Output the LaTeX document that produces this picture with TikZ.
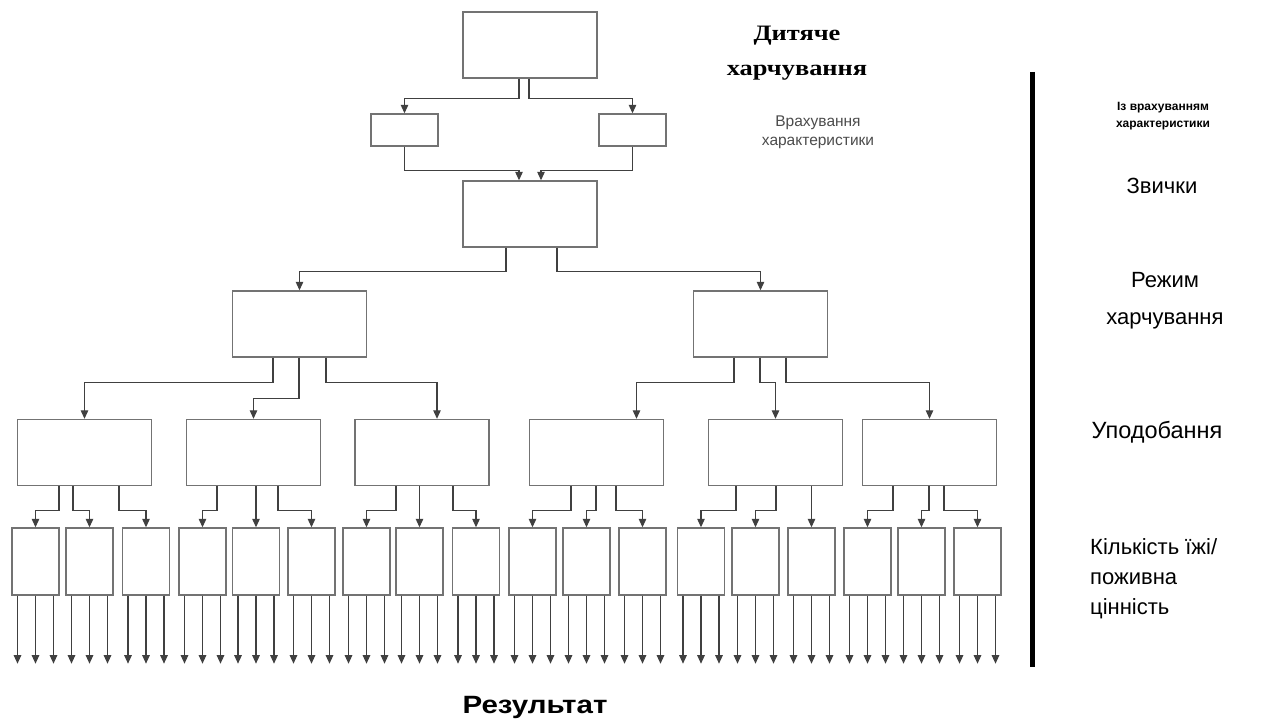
\documentclass[tikz,border=0pt]{standalone}
\usepackage{fontspec}
\setmainfont{Liberation Sans}
\newfontfamily\headserif{Liberation Serif}
\usetikzlibrary{arrows.meta}

\begin{document}
\begin{tikzpicture}[x=1pt,y=-1pt,
  framed/.style={draw=black!55, line width=1.4pt, inner sep=0pt, fill=white},
  bigbox/.style={framed, minimum width=134pt, minimum height=66pt},
  smallbox/.style={framed, minimum width=67pt, minimum height=32pt},
  leafbox/.style={framed, minimum width=47pt, minimum height=67pt},
  conn/.style={draw=black!75, line width=1.1pt, -{Triangle[length=8.5pt,width=7.5pt]}},
  lab/.style={font=\fontsize{22}{37}\selectfont, align=center, inner sep=0pt},
]
\fill[white] (0,0) rectangle (1265,719);
\useasboundingbox (0,0) rectangle (1265,719);

% root, the two side boxes and the second level
\node[bigbox] (a) at (530,45) {};
\node[smallbox] (s1) at (404.5,130) {};
\node[smallbox] (s2) at (632.5,130) {};
\node[bigbox] (b) at (530,214) {};

% third level
\node[bigbox] (c1) at (299.5,324) {};
\node[bigbox] (c2) at (760.5,324) {};

% fourth level
\foreach \cx [count=\i] in {84.5,253.5,422,596.5,775.5,929.5}
  \node[bigbox] (d\i) at (\cx,452.5) {};

% leaves
\foreach \cx [count=\i] in {35.5,89.5,146,202.5,256,311.5,366.5,419.5,476,
                             532.5,586.5,642.5,701,755.5,811.5,867.5,921.5,977.5}
  \node[leafbox] (e\i) at (\cx,561.5) {};

% root to side boxes, side boxes to second level
\draw[conn] ([xshift=-11pt]a.south) -- ++(0,20) -| (s1.north);
\draw[conn] ([xshift=-1pt]a.south) -- ++(0,20) -| (s2.north);
\draw[conn] (s1.south) -- ++(0,24) -| ([xshift=-11pt]b.north);
\draw[conn] (s2.south) -- ++(0,24) -| ([xshift=11pt]b.north);

% second level to third level
\draw[conn] ([xshift=-24pt]b.south) -- ++(0,24) -| (c1.north);
\draw[conn] ([xshift=27pt]b.south) -- ++(0,24) -| (c2.north);

% third level to fourth level
\draw[conn] ([xshift=-26.5pt]c1.south) -- ++(0,25) -| (d1.north);
\draw[conn] ([xshift=-0.5pt]c1.south) -- ++(0,41) -| (d2.north);
\draw[conn] ([xshift=26.5pt]c1.south) -- ++(0,25) -| ([xshift=15pt]d3.north);
\draw[conn] ([xshift=-26.5pt]c2.south) -- ++(0,25) -| ([xshift=40pt]d4.north);
\draw[conn] ([xshift=-0.5pt]c2.south) -- ++(0,25) -| (d5.north);
\draw[conn] ([xshift=25.5pt]c2.south) -- ++(0,25) -| (d6.north);

% fourth level to leaves
\foreach \src/\dx/\dst in {d1/-25.5/e1, d1/-11.5/e2, d1/34.5/e3,
                           d2/-36.5/e4, d2/2.5/e5, d2/24.5/e6,
                           d3/-26/e7, d3/-2.5/e8, d3/31/e9,
                           d4/-25.5/e10, d4/-0.5/e11, d4/19.5/e12,
                           d5/-39.5/e13, d5/0.5/e14, d5/36/e15,
                           d6/-36.5/e16, d6/-0.5/e17, d6/14.5/e18}
  \draw[conn] ([xshift=\dx pt]\src.south) -- ++(0,24) -| (\dst.north);

% outputs of the leaves
\foreach \i in {1,...,18}
  \foreach \dx in {-18,0,18}
    \draw[conn] ([xshift=\dx pt]e\i.south) -- ++(0,68);

% divider
\coordinate (divtop) at (1032,72);
\coordinate (divbot) at (1032,667);
\draw[line width=5pt] (divtop) -- (divbot);

% captions
\node[font=\headserif\bfseries\fontsize{22}{35}\selectfont, align=center] (title) at (797,53)
  {\scalebox{1.2}[1]{Дитяче}\\\scalebox{1.2}[1]{харчування}};
\node[font=\fontsize{15.5}{19}\selectfont, text=black!70, align=center] (acc) at (818,132) {Врахування\\характеристики};
\node[font=\bfseries\fontsize{12}{17}\selectfont, align=center] (withacc) at (1163,116) {Із врахуванням\\характеристики};
\node[lab] (habits) at (1162,186) {Звички};
\node[lab] (regime) at (1165,301) {Режим\\харчування};
\node[lab, font=\fontsize{23.5}{37}\selectfont] (prefs) at (1157,432) {Уподобання};
\node[lab, align=left, anchor=north west, font=\fontsize{22}{30}\selectfont] (amount) at (1090,538) {Кількість їжі/\\поживна\\цінність};
\node[font=\bfseries\fontsize{25}{28}\selectfont] (result) at (535,707) {\scalebox{1.18}[1]{Результат}};
\end{tikzpicture}
\end{document}
